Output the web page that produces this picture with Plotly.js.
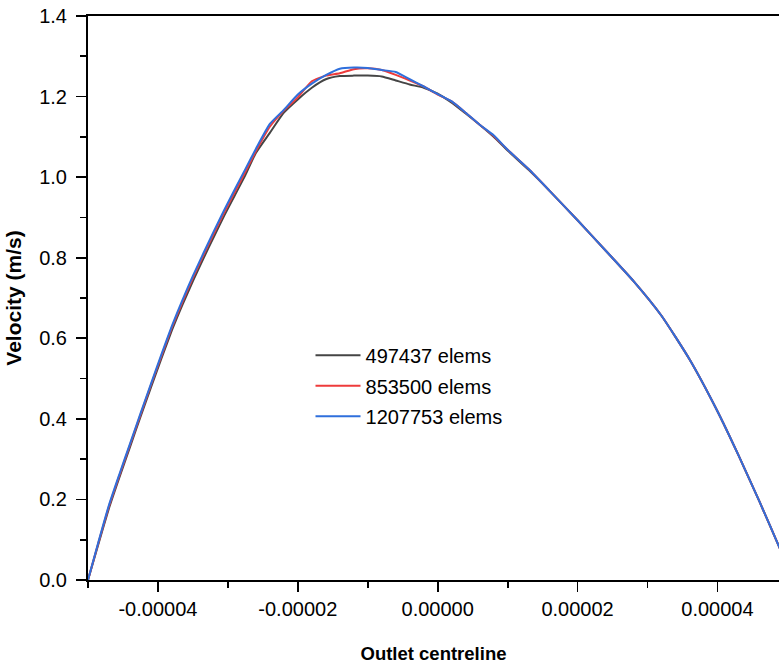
<!DOCTYPE html>
<html>
<head>
<meta charset="utf-8">
<script src="https://cdn.plot.ly/plotly-3.0.1.min.js"></script>
<style>html,body{margin:0;padding:0;background:#fff;}#chart{width:779px;height:664px;}</style>
</head>
<body>
<div id="chart"></div>
<script>
// Position along outlet centreline (m)
const xPos = [-5e-5, -4.85e-5, -4.7e-5, -4.55e-5, -4.4e-5, -4.25e-5, -4.1e-5, -3.95e-5, -3.8e-5, -3.65e-5,
  -3.5e-5, -3.35e-5, -3.2e-5, -3.05e-5, -2.9e-5, -2.75e-5, -2.6e-5, -2.4e-5,
  -2.2e-5, -2.0e-5, -1.8e-5, -1.6e-5, -1.4e-5, -1.2e-5, -1.0e-5, -0.8e-5, -0.6e-5, -0.4e-5,
  -0.2e-5, 0, 0.2e-5, 0.4e-5, 0.6e-5, 0.8e-5, 1.0e-5, 1.3e-5, 1.6e-5, 2.0e-5,
  2.4e-5, 2.8e-5, 3.2e-5, 3.6e-5, 4.0e-5, 4.3e-5, 4.6e-5, 4.9e-5, 5.0e-5];

// Velocity (m/s) for each mesh
const vel497437 = [0, 0.090, 0.178, 0.255, 0.330, 0.405, 0.478, 0.550, 0.620, 0.683,
  0.742, 0.798, 0.852, 0.905, 0.955, 1.005, 1.060, 1.110,
  1.160, 1.193, 1.222, 1.243, 1.251, 1.252, 1.252, 1.250, 1.240, 1.230,
  1.222, 1.207, 1.185, 1.158, 1.130, 1.100, 1.066, 1.018, 0.966, 0.893,
  0.818, 0.742, 0.656, 0.548, 0.419, 0.310, 0.195, 0.075, 0.034];
const vel853500 = [0, 0.093, 0.183, 0.260, 0.335, 0.410, 0.484, 0.556, 0.627, 0.690,
  0.750, 0.806, 0.860, 0.913, 0.963, 1.013, 1.064, 1.125,
  1.165, 1.198, 1.238, 1.252, 1.258, 1.268, 1.270, 1.266, 1.254, 1.240,
  1.225, 1.205, 1.188, 1.160, 1.130, 1.102, 1.068, 1.020, 0.966, 0.893,
  0.818, 0.742, 0.656, 0.548, 0.419, 0.310, 0.195, 0.075, 0.034];
const vel1207753 = [0, 0.095, 0.186, 0.263, 0.338, 0.413, 0.487, 0.560, 0.631, 0.695,
  0.755, 0.811, 0.866, 0.919, 0.970, 1.020, 1.070, 1.132,
  1.167, 1.205, 1.232, 1.253, 1.269, 1.272, 1.271, 1.266, 1.261, 1.243,
  1.225, 1.206, 1.188, 1.160, 1.130, 1.104, 1.068, 1.020, 0.966, 0.893,
  0.818, 0.742, 0.656, 0.548, 0.419, 0.310, 0.195, 0.075, 0.034];

const seriesNames = ['497437 elems', '853500 elems', '1207753 elems'];
const seriesColors = ['#454545', '#ee3b3b', '#2f6fdc'];
const seriesValues = [vel497437, vel853500, vel1207753];

const traces = seriesValues.map((v, i) => ({
  x: xPos, y: v, type: 'scatter', mode: 'lines', name: seriesNames[i],
  legendgroup: 'g' + i,
  line: {color: seriesColors[i], width: 2, shape: 'spline', smoothing: 0.5}
}));

const FONT = 'Liberation Sans, Arial, sans-serif';
const tickFont = {family: FONT, size: 20, color: '#000'};

const layout = {
  width: 779, height: 664,
  margin: {l: 88, r: 0, t: 16, b: 84},
  paper_bgcolor: '#fff', plot_bgcolor: '#fff',
  showlegend: true,
  legend: {
    x: 0.322, y: 0.433, xanchor: 'left', yanchor: 'top',
    bgcolor: 'rgba(0,0,0,0)', borderwidth: 0,
    font: tickFont, tracegroupgap: 1.5, itemwidth: 45
  },
  xaxis: {
    range: [-5e-5, 4.88e-5],
    tickvals: [-4e-5, -2e-5, 0, 2e-5, 4e-5],
    ticktext: ['-0.00004', '-0.00002', '0.00000', '0.00002', '0.00004'],
    ticks: 'outside', ticklen: 10, tickwidth: 1.8, tickcolor: '#000',
    minor: {ticks: 'outside', ticklen: 6, tickwidth: 1.8, tickcolor: '#000', tickvals: [-5e-5, -3e-5, -1e-5, 1e-5, 3e-5]},
    showline: true, linecolor: '#000', linewidth: 2, mirror: true,
    showgrid: false, zeroline: false,
    tickfont: tickFont,
    title: {text: '<b>Outlet centreline</b>', font: {family: FONT, size: 18.5, color: '#000'}, standoff: 30}
  },
  yaxis: {
    range: [0, 1.4],
    tickvals: [0, 0.2, 0.4, 0.6, 0.8, 1.0, 1.2, 1.4],
    ticktext: ['0.0', '0.2', '0.4', '0.6', '0.8', '1.0', '1.2', '1.4'],
    ticks: 'outside', ticklen: 10, tickwidth: 1.8, tickcolor: '#000',
    minor: {ticks: 'outside', ticklen: 6, tickwidth: 1.8, tickcolor: '#000', tickvals: [0.1, 0.3, 0.5, 0.7, 0.9, 1.1, 1.3]},
    showline: true, linecolor: '#000', linewidth: 2, mirror: false,
    showgrid: false, zeroline: false,
    tickfont: tickFont, ticklabelstandoff: 5,
    title: {text: '<b>Velocity (m/s)</b>', font: {family: FONT, size: 21, color: '#000'}, standoff: 12}
  }
};

Plotly.newPlot('chart', traces, layout, {staticPlot: true, displayModeBar: false});
</script>
</body>
</html>
